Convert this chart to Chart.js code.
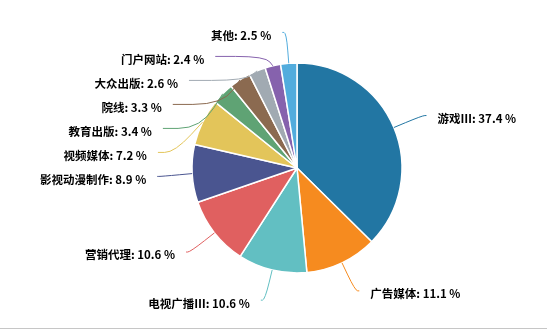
<!DOCTYPE html>
<html lang="zh">
<head>
  <meta charset="UTF-8">
  <title>行业占比</title>
  <script src="https://cdn.jsdelivr.net/npm/chart.js"></script>
  <style>
    html, body {
      margin: 0;
      padding: 0;
      background: #fff;
    }
    #wrap {
      position: relative;
      width: 547px;
      height: 328px;
      border-bottom: 1px solid #c6c6c6;
    }
  </style>
</head>
<body>

  <div id="wrap"><canvas id="grafico"></canvas></div>

  <script>
    const categorias = ['游戏Ⅲ', '广告媒体', '电视广播Ⅲ', '营销代理', '影视动漫制作', '视频媒体',
                        '教育出版', '院线', '大众出版', '门户网站', '其他'];
    const valores = [37.4, 11.1, 10.6, 10.6, 8.9, 7.2, 3.4, 3.3, 2.6, 2.4, 2.5];
    const colores = ['#2276a3', '#f68b1f', '#62bfc2', '#e06060', '#4a5590', '#e3c55a',
                     '#5fa374', '#8b6a50', '#a1aab2', '#8662ad', '#52acdd'];

    const LARGO1 = 31;     // primer tramo de la guía
    const LARGO2 = 4;      // tramo horizontal
    const SEPARA = 24;     // distancia mínima entre etiquetas
    const HUECO = 11;      // entre guía y texto

    // etiquetas fuera de la torta con líneas guía
    const etiquetasFuera = {
      id: 'etiquetasFuera',
      afterDatasetsDraw(chart) {
        const ctx = chart.ctx;
        const meta = chart.getDatasetMeta(0);
        const items = meta.data.map((arc, i) => {
          const p = arc.getProps(['x', 'y', 'startAngle', 'endAngle', 'outerRadius'], true);
          const mid = (p.startAngle + p.endAngle) / 2;
          const c = Math.cos(mid), s = Math.sin(mid);
          const R = p.outerRadius + LARGO1;
          return {
            i, cx: p.x, cy: p.y, R,
            dir: c < 0 ? -1 : 1,
            p1: [p.x + c * p.outerRadius, p.y + s * p.outerRadius],
            ex: p.x + c * R,
            y: p.y + s * R
          };
        });

        [-1, 1].forEach(dir => {
          const lado = items.filter(o => o.dir === dir).sort((a, b) => a.y - b.y);
          let ultimo = -Infinity;
          lado.forEach(o => {
            if (o.y < ultimo + SEPARA) o.y = ultimo + SEPARA;
            ultimo = o.y;
          });
        });

        ctx.save();
        ctx.font = 'bold 11.5px "Noto Sans CJK SC", sans-serif';
        ctx.textBaseline = 'middle';
        items.forEach(o => {
          const dy = o.y - o.cy;
          const dx = Math.sqrt(Math.max(o.R * o.R - dy * dy, 0));
          const p2 = [o.ex, o.y];
          const p3 = [o.cx + o.dir * (dx + LARGO2), o.y];
          const k = 0.6;
          const m1 = [p2[0] + (o.p1[0] - p2[0]) * k, p2[1] + (o.p1[1] - p2[1]) * k];
          const m2 = [p2[0] + (p3[0] - p2[0]) * k, p2[1] + (p3[1] - p2[1]) * k];

          ctx.strokeStyle = colores[o.i];
          ctx.lineWidth = 1;
          ctx.beginPath();
          ctx.moveTo(o.p1[0], o.p1[1]);
          ctx.lineTo(m1[0], m1[1]);
          ctx.quadraticCurveTo(p2[0], p2[1], m2[0], m2[1]);
          ctx.lineTo(p3[0], p3[1]);
          ctx.stroke();

          ctx.fillStyle = '#000';
          ctx.textAlign = o.dir < 0 ? 'right' : 'left';
          const texto = categorias[o.i] + ': ' + valores[o.i].toFixed(1) + ' %';
          ctx.fillText(texto, p3[0] + o.dir * HUECO, o.y + 3);
        });
        ctx.restore();
      }
    };

    const ctx = document.getElementById('grafico').getContext('2d');
    new Chart(ctx, {
      type: 'pie',
      data: {
        labels: categorias,
        datasets: [{
          data: valores,
          backgroundColor: colores,
          borderColor: '#fff',
          borderWidth: 1.5,
          radius: 105
        }]
      },
      options: {
        responsive: true,
        maintainAspectRatio: false,
        animation: false,
        layout: { padding: { left: 100, right: 53, top: 63, bottom: 55 } },
        plugins: {
          legend: { display: false },
          tooltip: { enabled: false }
        }
      },
      plugins: [etiquetasFuera]
    });
  </script>

</body>
</html>
